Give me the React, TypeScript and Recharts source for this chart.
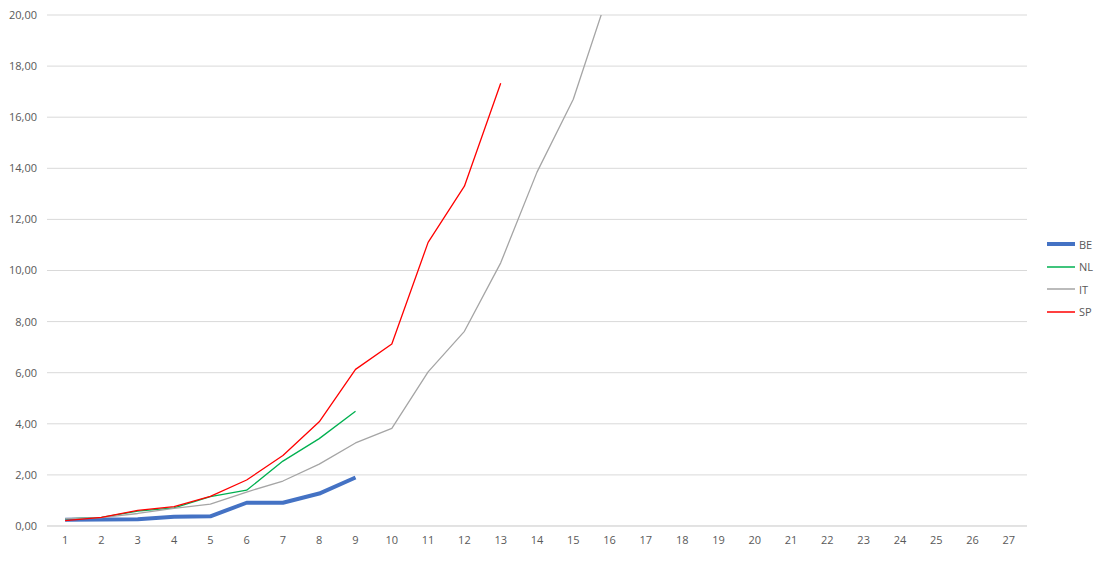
import { LineChart, Line, XAxis, YAxis, CartesianGrid, Legend } from "recharts";

const FONT = "'Open Sans', sans-serif";
const TICK = { fontSize: 11, fill: "#595959", fontFamily: FONT };

// day index 1..27 on the x axis
const days = Array.from({ length: 27 }, (_, i) => String(i + 1));

const be = [0.24, 0.25, 0.26, 0.36, 0.38, 0.91, 0.91, 1.27, 1.9];
const nl = [0.28, 0.34, 0.58, 0.71, 1.15, 1.4, 2.54, 3.42, 4.49];
const it = [0.29, 0.33, 0.49, 0.69, 0.86, 1.33, 1.76, 2.42, 3.25, 3.82, 6.03, 7.62, 10.3, 13.85, 16.7, 21.0];
const sp = [0.21, 0.34, 0.61, 0.76, 1.16, 1.8, 2.76, 4.08, 6.13, 7.12, 11.1, 13.3, 17.33];

const yTicks = [0, 2, 4, 6, 8, 10, 12, 14, 16, 18, 20];

const series = [
  { key: "BE", color: "#4472c4", width: 4 },
  { key: "NL", color: "#00b050", width: 1.3 },
  { key: "IT", color: "#a5a5a5", width: 1.3 },
  { key: "SP", color: "#ff0000", width: 1.3 },
];

const data = days.map((d, i) => ({
  day: d,
  BE: be[i],
  NL: nl[i],
  IT: it[i],
  SP: sp[i],
}));

function LegendBox() {
  return (
    <div style={{ fontFamily: FONT, fontSize: 11, color: "#595959" }}>
      {series.map((s) => (
        <div key={s.key} style={{ display: "flex", alignItems: "center", height: 22.5 }}>
          <svg width={30} height={8} style={{ marginRight: 3 }}>
            <line x1={1} y1={4} x2={29} y2={4} stroke={s.color} strokeWidth={s.width < 2 ? 1.5 : s.width} />
          </svg>
          <span>{s.key}</span>
        </div>
      ))}
    </div>
  );
}

export default function App() {
  return (
    <div style={{ position: "absolute", left: 0, top: 0, background: "#fff" }}>
      <LineChart width={1115} height={563} data={data} margin={{ top: 15, right: 88, bottom: 7, left: 0 }}>
        <CartesianGrid vertical={false} stroke="#d9d9d9" />
        <XAxis
          dataKey="day"
          scale="band"
          tick={TICK}
          tickSize={0}
          tickMargin={10}
          axisLine={{ stroke: "#d9d9d9" }}
          interval={0}
        />
        <YAxis
          domain={[0, 20]}
          ticks={yTicks}
          allowDataOverflow
          width={47}
          tick={TICK}
          tickSize={0}
          tickMargin={10}
          axisLine={false}
          tickFormatter={(v: number) => v.toFixed(2).replace(".", ",")}
        />
        <Legend
          layout="vertical"
          align="center"
          verticalAlign="middle"
          content={() => <LegendBox />}
          wrapperStyle={{ left: 1046, top: 233, width: 62 }}
        />
        {series.map((s) => (
          <Line
            key={s.key}
            dataKey={s.key}
            stroke={s.color}
            strokeWidth={s.width}
            dot={false}
            activeDot={false}
            isAnimationActive={false}
            strokeLinejoin="round"
          />
        ))}
      </LineChart>
    </div>
  );
}
